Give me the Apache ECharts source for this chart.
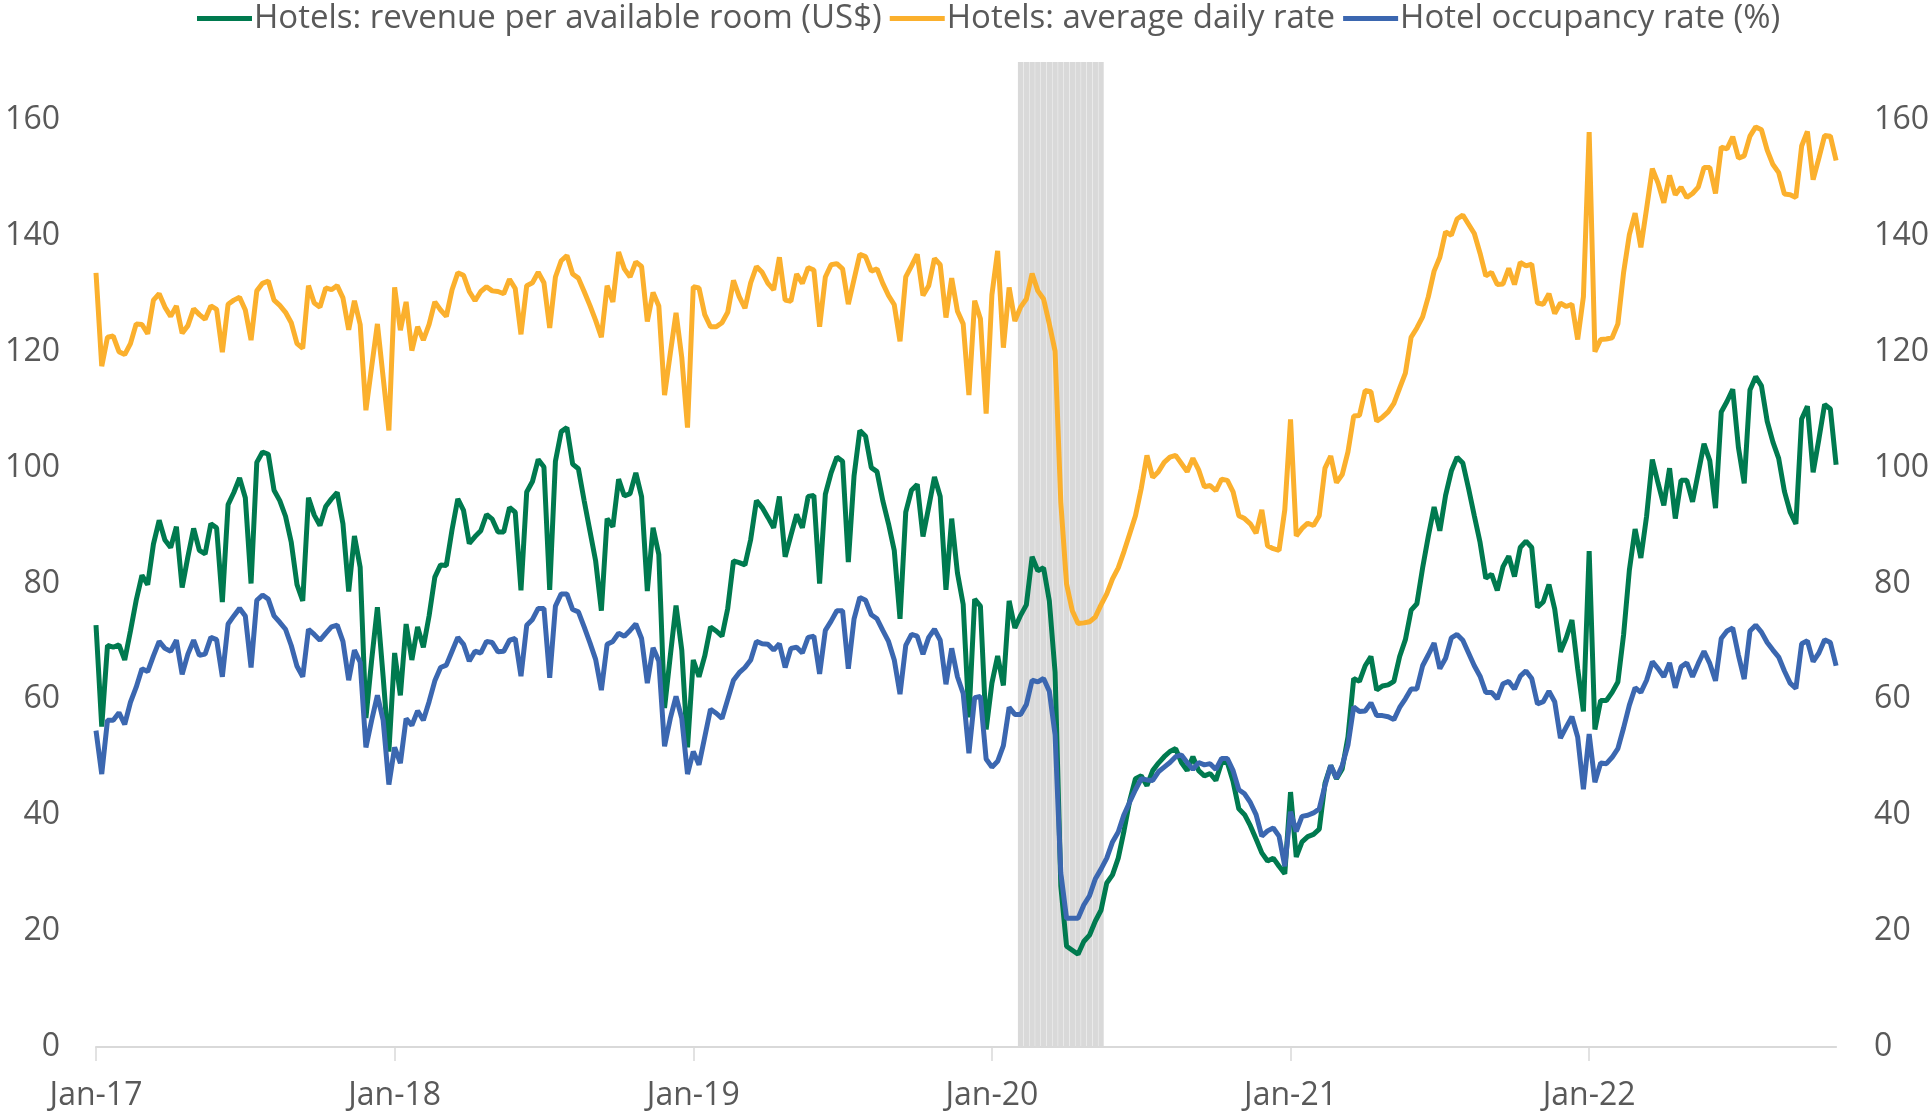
<!DOCTYPE html>
<html>
<head>
<meta charset="utf-8">
<script src="https://cdn.jsdelivr.net/npm/echarts@6/dist/echarts.min.js"></script>
<style>
  html, body { margin: 0; padding: 0; background: #fff; }
  #chart { width: 1932px; height: 1118px; }
</style>
</head>
<body>
<div id="chart"></div>
<script>
// weekly data, first week of Jan-17 to late 2022
const weekCount = 304;
const yearTickIdx = [0, 52, 104, 156, 208, 260];
const yearTickLabels = ["Jan-17", "Jan-18", "Jan-19", "Jan-20", "Jan-21", "Jan-22"];
// lockdown weeks (grey band)
const shadeStart = 161;
const shadeEnd = 175;

// Hotels: revenue per available room (US$)
const revpar = [
  72.8, 55.3, 69.3, 69.0, 69.4, 66.8, 71.8, 77.1, 81.4, 79.8, 86.8, 90.9, 87.5, 86.2, 89.8, 79.3, 84.6, 89.5, 85.7, 85.1,
  90.3, 89.6, 76.8, 93.6, 95.7, 98.2, 94.8, 80.0, 100.9, 102.7, 102.3, 96.1, 94.3, 91.6, 87.1, 79.8, 77.0, 94.8, 91.8, 90.0,
  93.3, 94.6, 95.7, 90.3, 78.6, 88.2, 82.8, 56.8, 66.8, 75.9, 63.9, 51.0, 68.0, 60.7,
  73.0, 66.8, 72.5, 69.0, 74.4, 81.1, 83.2, 83.1, 89.3, 94.6, 92.6, 86.9, 88.1, 89.1, 91.9, 91.1, 88.9, 88.9, 93.1, 92.3,
  78.8, 95.8, 97.6, 101.4, 100.1, 78.9, 101.1, 106.2, 106.9, 100.6, 99.8, 94.3, 89.1, 83.9, 75.3, 91.2, 89.8, 98.0, 95.1, 95.5,
  99.1, 95.0, 78.7, 89.6, 85.0, 58.5, 67.5, 76.2, 68.5, 51.7, 66.8, 63.9,
  67.5, 72.5, 71.8, 70.9, 75.7, 83.9, 83.6, 83.2, 87.6, 94.3, 93.1, 91.4, 89.6, 95.0, 84.6, 88.3, 91.9, 89.6, 95.0, 95.2,
  80.0, 95.4, 99.1, 101.8, 101.1, 83.7, 98.6, 106.4, 105.4, 100.0, 99.3, 94.3, 90.3, 85.7, 73.9, 92.3, 96.1, 97.1, 88.1, 93.2,
  98.4, 95.0, 78.9, 91.2, 81.8, 76.4, 56.9, 77.3, 76.1, 54.8, 62.8, 67.5,
  62.4, 77.0, 72.3, 74.5, 76.3, 84.6, 82.2, 82.7, 77.0, 64.7,
  27.8, 17.4, 16.7, 16.0, 18.2, 19.3, 21.7, 23.6, 28.3, 29.7, 32.6, 37.3, 42.5, 46.3, 46.8, 45.1, 47.7, 49.0, 50.1, 51.0,
  51.5, 49.1, 47.7, 50.1, 47.7, 46.8, 47.2, 46.0, 49.1, 49.1, 45.8, 41.1, 40.1, 38.2, 35.9, 33.5, 32.1, 32.6, 31.2, 29.9, 44.0,
  32.8, 35.4, 36.3, 36.7, 37.6, 45.5, 48.6, 46.3, 48.0, 53.5, 63.6, 63.1, 65.8, 67.4, 61.6, 62.3, 62.5, 63.1, 67.4, 70.3,
  75.4, 76.5, 82.7, 88.2, 93.2, 89.1, 95.2, 99.4, 101.8, 100.8, 96.4, 91.7, 87.1, 80.9, 81.6, 78.8, 82.9, 84.7, 81.2, 86.2,
  87.3, 86.2, 75.9, 76.8, 79.8, 75.6, 68.2, 70.6, 73.7, 65.3, 57.9,
  85.6,
  54.8, 59.8, 59.8, 61.2, 63.0, 71.2, 82.3, 89.4, 84.4, 91.6, 101.4, 97.3, 93.5, 99.9, 91.2, 97.8, 97.8, 94.1, 99.1, 104.1,
  101.2, 93.0, 109.6, 111.4, 113.5, 103.4, 97.3, 113.4, 115.7, 114.1, 108.0, 104.4, 101.6, 95.9, 92.3, 90.3, 108.4, 110.6, 99.2, 104.9,
  110.9, 110.1, 100.5
];

// Hotels: average daily rate
const adr = [
  133.6, 117.5, 122.5, 122.7, 120.0, 119.5, 121.4, 124.8, 124.7, 123.1, 128.9, 130.0, 127.7, 126.1, 127.9, 123.2, 124.5, 127.4, 126.4, 125.6,
  127.9, 127.3, 119.9, 128.2, 128.9, 129.4, 127.2, 122.0, 130.5, 131.8, 132.2, 128.9, 128.0, 126.8, 125.0, 121.4, 120.6, 131.4, 128.4, 127.7,
  131.0, 130.7, 131.4, 129.3, 123.8, 128.8, 124.7, 109.9, 117.4, 124.8, 115.6, 106.4, 131.1, 123.7,
  128.6, 120.2, 124.3, 122.0, 124.7, 128.6, 127.2, 126.1, 130.7, 133.6, 133.2, 130.4, 128.8, 130.4, 131.2, 130.5, 130.4, 130.0, 132.5, 130.9,
  123.0, 131.4, 131.9, 133.7, 131.9, 124.1, 132.9, 135.7, 136.6, 133.4, 132.7, 130.4, 128.0, 125.4, 122.5, 131.4, 128.6, 137.2, 134.3, 132.9,
  135.5, 134.7, 125.2, 130.2, 127.9, 112.5, 119.7, 126.7, 119.0, 106.9, 131.2, 131.0,
  126.4, 124.3, 124.3, 125.0, 126.8, 132.3, 129.5, 127.5, 131.9, 134.7, 133.7, 131.8, 130.7, 136.3, 128.9, 128.7, 133.4, 131.8, 134.5, 134.1,
  124.3, 132.9, 135.0, 135.2, 134.3, 128.2, 132.5, 136.8, 136.4, 133.9, 134.3, 131.8, 129.7, 128.1, 121.8, 132.9, 134.8, 136.8, 129.7, 131.4,
  136.1, 135.0, 125.9, 132.7, 127.0, 124.8, 112.5, 128.8, 125.7, 109.3, 129.8, 137.4,
  120.7, 131.1, 125.3, 127.7, 129.1, 133.5, 130.5, 129.1, 124.8, 120.1,
  94.0, 79.9, 75.3, 73.1, 73.2, 73.4, 74.2, 76.3, 78.2, 80.8, 82.7, 85.5, 88.6, 91.7, 96.4, 102.1, 98.3, 99.3, 100.9, 101.8,
  102.1, 100.7, 99.3, 101.6, 99.6, 96.7, 96.9, 96.0, 98.0, 97.8, 95.8, 91.7, 91.2, 90.3, 88.7, 92.7, 86.5, 86.0, 85.7, 92.7, 108.3,
  88.2, 89.5, 90.4, 90.0, 91.7, 99.9, 102.0, 97.4, 98.8, 102.7, 108.9, 109.0, 113.3, 113.1, 108.0, 108.7, 109.6, 111.1, 113.7, 116.3,
  122.5, 124.1, 126.0, 129.5, 133.9, 136.3, 140.7, 140.1, 142.9, 143.6, 142.0, 140.4, 137.0, 133.1, 133.7, 131.6, 131.7, 134.4, 131.6, 135.4,
  134.8, 135.1, 128.4, 128.2, 130.0, 126.6, 128.4, 127.8, 128.2, 122.1, 129.5,
  157.9,
  120.0, 122.1, 122.2, 122.4, 124.8, 133.7, 140.2, 143.9, 138.0, 144.7, 151.6, 149.1, 145.7, 150.4, 147.1, 148.4, 146.6, 147.3, 148.4, 151.8,
  151.8, 147.3, 155.3, 155.0, 157.1, 153.4, 153.8, 157.2, 158.8, 158.3, 154.8, 152.3, 150.9, 147.2, 147.1, 146.6, 155.5, 158.0, 149.7, 153.4,
  157.3, 157.2, 153.0
];

// Hotel occupancy rate (%)
const occupancy = [
  54.6, 47.1, 56.4, 56.4, 57.7, 55.7, 59.5, 62.1, 65.3, 64.8, 67.5, 70.0, 68.8, 68.3, 70.2, 64.3, 67.8, 70.2, 67.6, 67.8,
  70.7, 70.3, 63.9, 73.0, 74.4, 75.7, 74.4, 65.5, 77.1, 78.0, 77.3, 74.4, 73.3, 72.1, 69.3, 65.7, 63.9, 72.1, 71.2, 70.2,
  71.4, 72.5, 72.8, 70.0, 63.3, 68.5, 66.4, 51.7, 56.4, 60.7, 56.4, 45.3, 51.7, 49.0,
  56.7, 55.5, 58.0, 56.4, 59.6, 63.2, 65.5, 65.9, 68.3, 70.7, 69.5, 66.6, 68.3, 68.0, 70.0, 69.8, 68.2, 68.3, 70.2, 70.5,
  64.0, 72.8, 73.8, 75.7, 75.7, 63.7, 76.1, 78.2, 78.2, 75.5, 75.1, 72.5, 69.8, 66.9, 61.6, 69.5, 70.0, 71.4, 70.9, 71.9,
  73.0, 70.5, 62.8, 68.9, 66.6, 51.9, 56.7, 60.5, 56.7, 47.1, 51.0, 48.7,
  53.5, 58.3, 57.6, 56.7, 60.0, 63.3, 64.6, 65.5, 66.8, 70.0, 69.6, 69.5, 68.5, 69.6, 65.5, 68.8, 69.0, 68.0, 70.7, 70.9,
  64.4, 71.9, 73.5, 75.3, 75.3, 65.3, 73.9, 77.6, 77.1, 74.6, 73.9, 71.9, 70.0, 66.8, 60.9, 69.3, 71.2, 70.9, 67.8, 70.7,
  72.1, 70.2, 62.6, 68.8, 63.9, 61.0, 50.7, 60.3, 60.5, 49.7, 48.3, 49.3,
  52.0, 58.6, 57.4, 57.4, 59.1, 63.3, 63.0, 63.6, 61.4, 53.9,
  30.0, 22.2, 22.2, 22.2, 24.5, 26.1, 29.0, 30.7, 32.6, 35.4, 37.1, 40.1, 42.3, 44.4, 46.3, 46.1, 46.0, 47.5, 48.3, 49.1,
  50.1, 50.4, 49.1, 47.9, 49.1, 48.7, 48.9, 47.9, 49.8, 49.8, 47.7, 44.4, 43.7, 42.2, 40.1, 36.4, 37.3, 37.8, 36.4, 31.2, 40.6,
  37.2, 39.8, 40.0, 40.4, 41.1, 45.1, 48.6, 46.4, 48.6, 52.1, 58.7, 57.9, 58.0, 59.4, 57.2, 57.2, 57.0, 56.5, 58.6, 60.1,
  61.8, 61.8, 65.8, 67.7, 69.7, 65.3, 67.1, 70.6, 71.2, 70.2, 68.0, 65.8, 64.0, 61.2, 61.2, 60.1, 62.7, 63.1, 61.8, 64.0,
  64.9, 63.6, 59.2, 59.6, 61.4, 59.6, 53.3, 55.2, 57.0, 53.5, 44.5,
  54.0, 45.7, 49.0, 48.9, 50.0, 51.5, 55.1, 59.0, 62.0, 61.2, 63.3, 66.5, 65.3, 63.9, 66.3, 62.0, 65.6, 66.3, 63.9, 66.2,
  68.3, 66.2, 63.2, 70.5, 71.8, 72.3, 67.6, 63.5, 71.8, 72.8, 71.6, 69.8, 68.5, 67.3, 64.9, 62.8, 61.9, 69.6, 70.1, 66.5,
  68.0, 70.3, 69.8, 65.8
];

// week-ending dates used as categories
const weeks = [];
for (let i = 0; i < weekCount; i++) {
  const d = new Date(2017, 0, 7 + i * 7);
  weeks.push(d.getFullYear() + "-" + (d.getMonth() + 1) + "-" + d.getDate());
}
const shade = weeks.map((w, i) => (i >= shadeStart && i <= shadeEnd ? 170 : null));

const font = "'Open Sans', 'Noto Sans', sans-serif";
const grey = "#595959";
const isYearTick = (idx) => yearTickIdx.indexOf(idx) >= 0;

const valueAxis = (pos) => ({
  type: "value",
  position: pos,
  min: 0,
  max: 170,
  interval: 20,
  axisLine: { show: false },
  axisTick: { show: false },
  splitLine: { show: false },
  axisLabel: {
    showMaxLabel: false,
    color: grey,
    fontFamily: font,
    fontSize: 32,
    margin: pos === "left" ? 36 : 38,
  },
});

const chart = echarts.init(document.getElementById("chart"));
chart.setOption({
  animation: false,
  backgroundColor: "#fff",
  textStyle: { fontFamily: font },
  legend: {
    top: 0,
    padding: [2, 5, 2, 5],
    left: 192,
    icon: "rect",
    itemWidth: 55,
    itemHeight: 5,
    itemGap: 8,
    textStyle: { color: grey, fontSize: 33, fontFamily: font, padding: [0, 0, 0, -3] },
    data: [
      "Hotels: revenue per available room (US$)",
      "Hotels: average daily rate",
      "Hotel occupancy rate (%)",
    ],
  },
  grid: { left: 96, right: 94, top: 62, bottom: 71 },
  xAxis: {
    type: "category",
    data: weeks,
    boundaryGap: false,
    axisLine: { lineStyle: { color: "#d9d9d9", width: 2 } },
    axisTick: {
      length: 14,
      lineStyle: { color: "#d9d9d9", width: 1.5 },
      interval: (idx) => isYearTick(idx),
    },
    axisLabel: {
      interval: (idx) => isYearTick(idx),
      formatter: (val, idx) => yearTickLabels[yearTickIdx.indexOf(idx)] || "",
      color: grey,
      fontFamily: font,
      fontSize: 32,
      margin: 33,
    },
  },
  yAxis: [valueAxis("left"), valueAxis("right")],
  series: [
    {
      name: "lockdown",
      type: "bar",
      data: shade,
      barCategoryGap: "6%",
      itemStyle: { color: "#d9d9d9" },
      silent: true,
      z: 1,
    },
    {
      name: "Hotels: revenue per available room (US$)",
      type: "line",
      data: revpar,
      showSymbol: false,
      lineStyle: { color: "#007a4f", width: 5 },
      itemStyle: { color: "#007a4f" },
      z: 3,
    },
    {
      name: "Hotels: average daily rate",
      type: "line",
      data: adr,
      showSymbol: false,
      lineStyle: { color: "#fbb02d", width: 5 },
      itemStyle: { color: "#fbb02d" },
      z: 3,
    },
    {
      name: "Hotel occupancy rate (%)",
      type: "line",
      data: occupancy,
      showSymbol: false,
      lineStyle: { color: "#3b67b0", width: 5 },
      itemStyle: { color: "#3b67b0" },
      z: 3,
    },
  ],
});
</script>
</body>
</html>
